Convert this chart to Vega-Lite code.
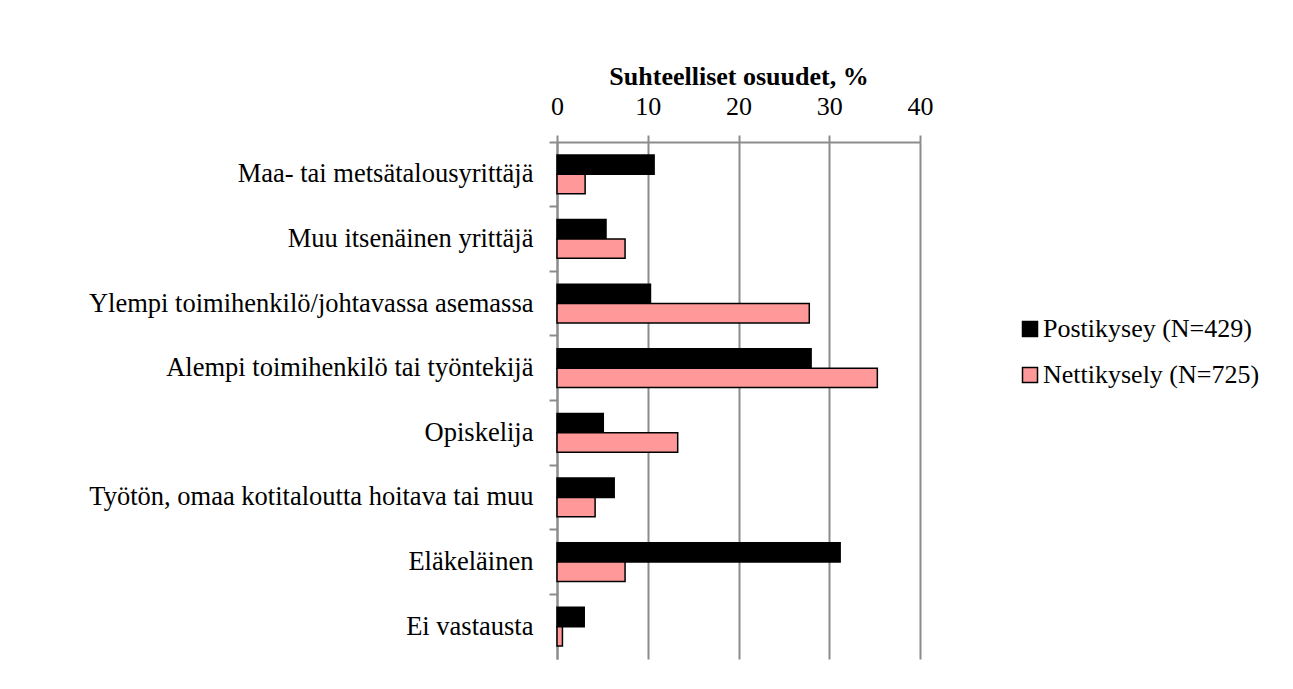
{
  "$schema": "https://vega.github.io/schema/vega-lite/v6.json",
  "autosize": "none",
  "width": 363,
  "height": 517,
  "padding": {"left": 557, "top": 142, "right": 373, "bottom": 30},
  "background": "white",
  "config": {
    "font": "Liberation Serif",
    "view": {"stroke": null},
    "axis": {"labelFont": "Liberation Serif", "titleFont": "Liberation Serif", "labelColor": "black", "titleColor": "black"},
    "legend": {"labelFont": "Liberation Serif"}
  },
  "data": {
    "values": [
      {"luokka": "Maa- tai metsätalousyrittäjä", "kysely": "Postikysey (N=429)", "osuus": 10.7},
      {"luokka": "Maa- tai metsätalousyrittäjä", "kysely": "Nettikysely (N=725)", "osuus": 3.1},
      {"luokka": "Muu itsenäinen yrittäjä", "kysely": "Postikysey (N=429)", "osuus": 5.4},
      {"luokka": "Muu itsenäinen yrittäjä", "kysely": "Nettikysely (N=725)", "osuus": 7.5},
      {"luokka": "Ylempi toimihenkilö/johtavassa asemassa", "kysely": "Postikysey (N=429)", "osuus": 10.3},
      {"luokka": "Ylempi toimihenkilö/johtavassa asemassa", "kysely": "Nettikysely (N=725)", "osuus": 27.8},
      {"luokka": "Alempi toimihenkilö tai työntekijä", "kysely": "Postikysey (N=429)", "osuus": 28.0},
      {"luokka": "Alempi toimihenkilö tai työntekijä", "kysely": "Nettikysely (N=725)", "osuus": 35.3},
      {"luokka": "Opiskelija", "kysely": "Postikysey (N=429)", "osuus": 5.1},
      {"luokka": "Opiskelija", "kysely": "Nettikysely (N=725)", "osuus": 13.3},
      {"luokka": "Työtön, omaa kotitaloutta hoitava tai muu", "kysely": "Postikysey (N=429)", "osuus": 6.3},
      {"luokka": "Työtön, omaa kotitaloutta hoitava tai muu", "kysely": "Nettikysely (N=725)", "osuus": 4.2},
      {"luokka": "Eläkeläinen", "kysely": "Postikysey (N=429)", "osuus": 31.2},
      {"luokka": "Eläkeläinen", "kysely": "Nettikysely (N=725)", "osuus": 7.5},
      {"luokka": "Ei vastausta", "kysely": "Postikysey (N=429)", "osuus": 3.0},
      {"luokka": "Ei vastausta", "kysely": "Nettikysely (N=725)", "osuus": 0.6}
    ]
  },
  "mark": {"type": "bar", "stroke": "black", "strokeWidth": 1.5},
  "encoding": {
    "y": {
      "field": "luokka",
      "type": "nominal",
      "sort": null,
      "scale": {"paddingInner": 0, "paddingOuter": 0},
      "axis": {
        "title": null,
        "orient": "left",
        "bandPosition": 0,
        "domainColor": "#8c8c8c",
        "domainWidth": 2,
        "tickColor": "#8c8c8c",
        "tickWidth": 2,
        "tickSize": 8,
        "labelPadding": 16,
        "labelFontSize": 26.5,
        "labelLimit": 600,
        "grid": false
      }
    },
    "yOffset": {
      "field": "kysely",
      "type": "nominal",
      "sort": ["Postikysey (N=429)", "Nettikysely (N=725)"],
      "scale": {"paddingInner": 0, "paddingOuter": 0.67}
    },
    "x": {
      "field": "osuus",
      "type": "quantitative",
      "scale": {"domain": [0, 40], "nice": false},
      "axis": {
        "orient": "top",
        "title": "Suhteelliset osuudet, %",
        "titleFontSize": 26,
        "titleFontWeight": "bold",
        "titlePadding": 4,
        "values": [0, 10, 20, 30, 40],
        "labelFontSize": 26,
        "labelPadding": 16,
        "labelFlush": false,
        "domainColor": "#8c8c8c",
        "domainWidth": 2,
        "tickColor": "#8c8c8c",
        "tickWidth": 2,
        "tickSize": 7,
        "grid": true,
        "gridColor": "#8c8c8c",
        "gridWidth": 2
      }
    },
    "color": {
      "field": "kysely",
      "type": "nominal",
      "sort": ["Postikysey (N=429)", "Nettikysely (N=725)"],
      "scale": {"domain": ["Postikysey (N=429)", "Nettikysely (N=725)"], "range": ["#000000", "#ff9999"]},
      "legend": {
        "title": null,
        "orient": "none",
        "legendX": 460,
        "legendY": 174,
        "symbolType": "square",
        "symbolSize": 225,
        "symbolStrokeColor": "black",
        "symbolStrokeWidth": 1.5,
        "labelFontSize": 26,
        "labelColor": "black",
        "labelOffset": 0,
        "labelLimit": 400,
        "rowPadding": 20,
        "padding": 0
      }
    }
  }
}
